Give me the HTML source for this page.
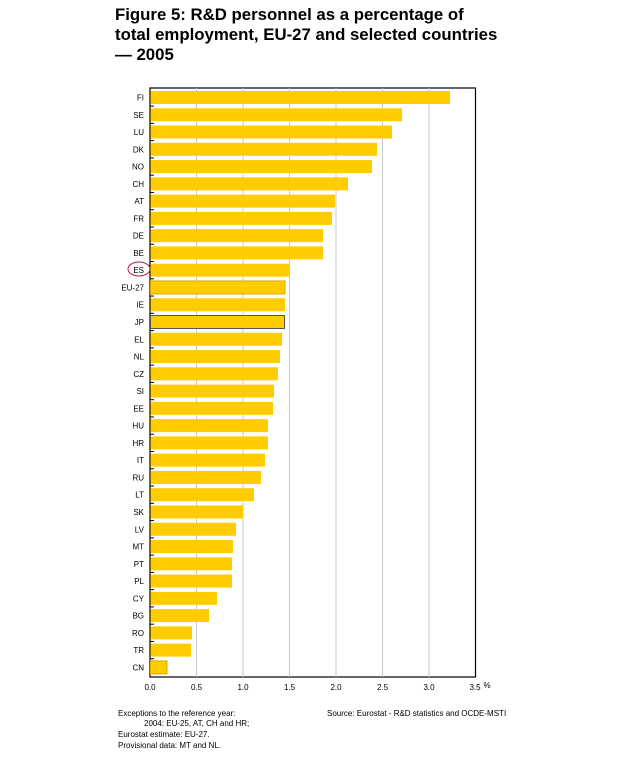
<!DOCTYPE html>
<html><head><meta charset="utf-8"><style>
html,body{margin:0;padding:0;background:#fff;}
svg{display:block;font-family:"Liberation Sans",Arial,sans-serif;}
</style></head><body>
<svg width="640" height="759" viewBox="0 0 640 759" xmlns="http://www.w3.org/2000/svg">
<g font-weight="bold" font-size="16.8" fill="#000">
<text x="115" y="20">Figure 5: R&amp;D personnel as a percentage of</text>
<text x="115" y="40">total employment, EU-27 and selected countries</text>
<text x="115" y="60">— 2005</text>
</g>
<rect x="150" y="88" width="325.5" height="589" fill="#fff" stroke="#000" stroke-width="1.2"/>
<g stroke="#c8c8c8" stroke-width="1">
<line x1="196.5" y1="88" x2="196.5" y2="677"/>
<line x1="243" y1="88" x2="243" y2="677"/>
<line x1="289.5" y1="88" x2="289.5" y2="677"/>
<line x1="336" y1="88" x2="336" y2="677"/>
<line x1="382.5" y1="88" x2="382.5" y2="677"/>
<line x1="429" y1="88" x2="429" y2="677"/>
</g>
<g fill="#ffcc00">
<rect x="150.5" y="91" width="299.5" height="13"/>
<rect x="150.5" y="108.27" width="251.5" height="13"/>
<rect x="150.5" y="125.54" width="241.5" height="13"/>
<rect x="150.5" y="142.81" width="226.5" height="13"/>
<rect x="150.5" y="160.08" width="221.5" height="13"/>
<rect x="150.5" y="177.35" width="197.5" height="13"/>
<rect x="150.5" y="194.62" width="184.5" height="13"/>
<rect x="150.5" y="211.89" width="181.5" height="13"/>
<rect x="150.5" y="229.16" width="172.5" height="13"/>
<rect x="150.5" y="246.43" width="172.5" height="13"/>
<rect x="150.5" y="263.7" width="138.5" height="13"/>
<rect x="150.5" y="280.97" width="134.5" height="13" stroke="#d9a800" stroke-width="1"/>
<rect x="150.5" y="298.24" width="134.5" height="13"/>
<rect x="150.5" y="315.51" width="134" height="13" stroke="#555" stroke-width="1"/>
<rect x="150.5" y="332.78" width="131.5" height="13"/>
<rect x="150.5" y="350.05" width="129.5" height="13"/>
<rect x="150.5" y="367.32" width="127.5" height="13"/>
<rect x="150.5" y="384.59" width="123.5" height="13"/>
<rect x="150.5" y="401.86" width="122.5" height="13"/>
<rect x="150.5" y="419.13" width="117.5" height="13"/>
<rect x="150.5" y="436.4" width="117.5" height="13"/>
<rect x="150.5" y="453.67" width="114.5" height="13"/>
<rect x="150.5" y="470.94" width="110.5" height="13"/>
<rect x="150.5" y="488.21" width="103.5" height="13"/>
<rect x="150.5" y="505.48" width="92.5" height="13"/>
<rect x="150.5" y="522.75" width="85.5" height="13"/>
<rect x="150.5" y="540.02" width="82.5" height="13"/>
<rect x="150.5" y="557.29" width="81.5" height="13"/>
<rect x="150.5" y="574.56" width="81.5" height="13"/>
<rect x="150.5" y="591.83" width="66.5" height="13"/>
<rect x="150.5" y="609.1" width="58.5" height="13"/>
<rect x="150.5" y="626.37" width="41.5" height="13"/>
<rect x="150.5" y="643.64" width="40.5" height="13"/>
<rect x="150.5" y="660.91" width="16.5" height="13" stroke="#d9a800" stroke-width="1"/>
</g>
<g font-size="8" fill="#000" text-anchor="end">
<text x="144" y="100.5">FI</text>
<text x="144" y="117.77">SE</text>
<text x="144" y="135.04">LU</text>
<text x="144" y="152.31">DK</text>
<text x="144" y="169.58">NO</text>
<text x="144" y="186.85">CH</text>
<text x="144" y="204.12">AT</text>
<text x="144" y="221.39">FR</text>
<text x="144" y="238.66">DE</text>
<text x="144" y="255.93">BE</text>
<text x="144" y="273.2">ES</text>
<text x="144" y="290.47">EU-27</text>
<text x="144" y="307.74">IE</text>
<text x="144" y="325.01">JP</text>
<text x="144" y="342.28">EL</text>
<text x="144" y="359.55">NL</text>
<text x="144" y="376.82">CZ</text>
<text x="144" y="394.09">SI</text>
<text x="144" y="411.36">EE</text>
<text x="144" y="428.63">HU</text>
<text x="144" y="445.9">HR</text>
<text x="144" y="463.17">IT</text>
<text x="144" y="480.44">RU</text>
<text x="144" y="497.71">LT</text>
<text x="144" y="514.98">SK</text>
<text x="144" y="532.25">LV</text>
<text x="144" y="549.52">MT</text>
<text x="144" y="566.79">PT</text>
<text x="144" y="584.06">PL</text>
<text x="144" y="601.33">CY</text>
<text x="144" y="618.6">BG</text>
<text x="144" y="635.87">RO</text>
<text x="144" y="653.14">TR</text>
<text x="144" y="670.41">CN</text>
</g>
<g stroke="#000" stroke-width="1">
<line x1="150" x2="154" y1="106.1" y2="106.1"/>
<line x1="150" x2="154" y1="123.37" y2="123.37"/>
<line x1="150" x2="154" y1="140.64" y2="140.64"/>
<line x1="150" x2="154" y1="157.91" y2="157.91"/>
<line x1="150" x2="154" y1="175.18" y2="175.18"/>
<line x1="150" x2="154" y1="192.45" y2="192.45"/>
<line x1="150" x2="154" y1="209.72" y2="209.72"/>
<line x1="150" x2="154" y1="226.99" y2="226.99"/>
<line x1="150" x2="154" y1="244.26" y2="244.26"/>
<line x1="150" x2="154" y1="261.53" y2="261.53"/>
<line x1="150" x2="154" y1="278.8" y2="278.8"/>
<line x1="150" x2="154" y1="296.07" y2="296.07"/>
<line x1="150" x2="154" y1="313.34" y2="313.34"/>
<line x1="150" x2="154" y1="330.61" y2="330.61"/>
<line x1="150" x2="154" y1="347.88" y2="347.88"/>
<line x1="150" x2="154" y1="365.15" y2="365.15"/>
<line x1="150" x2="154" y1="382.42" y2="382.42"/>
<line x1="150" x2="154" y1="399.69" y2="399.69"/>
<line x1="150" x2="154" y1="416.96" y2="416.96"/>
<line x1="150" x2="154" y1="434.23" y2="434.23"/>
<line x1="150" x2="154" y1="451.5" y2="451.5"/>
<line x1="150" x2="154" y1="468.77" y2="468.77"/>
<line x1="150" x2="154" y1="486.04" y2="486.04"/>
<line x1="150" x2="154" y1="503.31" y2="503.31"/>
<line x1="150" x2="154" y1="520.58" y2="520.58"/>
<line x1="150" x2="154" y1="537.85" y2="537.85"/>
<line x1="150" x2="154" y1="555.12" y2="555.12"/>
<line x1="150" x2="154" y1="572.39" y2="572.39"/>
<line x1="150" x2="154" y1="589.66" y2="589.66"/>
<line x1="150" x2="154" y1="606.93" y2="606.93"/>
<line x1="150" x2="154" y1="624.2" y2="624.2"/>
<line x1="150" x2="154" y1="641.47" y2="641.47"/>
<line x1="150" x2="154" y1="658.74" y2="658.74"/>
</g>
<g font-size="8" fill="#000" text-anchor="middle">
<text x="150" y="690">0.0</text>
<text x="196.5" y="690">0.5</text>
<text x="243" y="690">1.0</text>
<text x="289.5" y="690">1.5</text>
<text x="336" y="690">2.0</text>
<text x="382.5" y="690">2.5</text>
<text x="429" y="690">3.0</text>
<text x="475" y="690">3.5</text>
<text x="487" y="688">%</text>
</g>
<g font-size="8" fill="#000">
<text x="118" y="716">Exceptions to the reference year:</text>
<text x="144" y="726">2004: EU-25, AT, CH and HR;</text>
<text x="118" y="737">Eurostat estimate: EU-27.</text>
<text x="118" y="748">Provisional data: MT and NL.</text>
<text x="327" y="716">Source: Eurostat - R&amp;D statistics and OCDE-MSTI</text>
</g>
<ellipse cx="139" cy="269" rx="11" ry="7" fill="none" stroke="#c0143c" stroke-width="1"/>
</svg>
</body></html>
